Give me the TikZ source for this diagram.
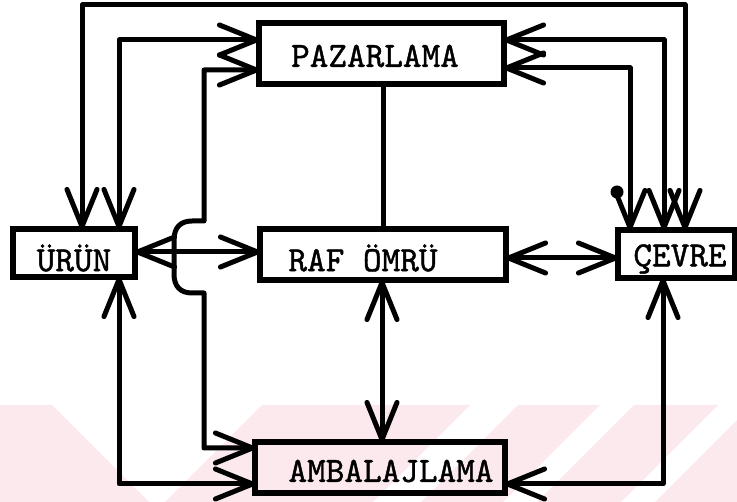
\documentclass[tikz,border=0pt]{standalone}
\usepackage{fontspec}
\setmonofont{lmmono10-regular.otf}[FakeBold=1.2]
\usetikzlibrary{arrows.meta}
\definecolor{wm}{RGB}{252,233,237}
\begin{document}
\begin{tikzpicture}[x=1pt,y=-1pt,
  box/.style={draw,line width=5.2pt,inner sep=0pt,outer sep=0pt},
  lbl/.style={inner sep=0pt,font=\ttfamily\fontsize{35.5}{35.5}\selectfont},
  conn/.style={line width=5pt,line cap=round,line join=round},
  link/.style={conn,{Straight Barb[length=37pt,width=30pt,round]}-{Straight Barb[length=37pt,width=30pt,round]}}]
\useasboundingbox (0,0) rectangle (737,502);
% faint watermark stripes
\fill[wm] (0,405) -- (52,405) -- (149,502) -- (0,502) -- cycle;
\fill[wm] (262,405) -- (470,405) -- (373,502) -- (165,502) -- cycle;
\fill[wm] (518,405) -- (600,405) -- (503,502) -- (421,502) -- cycle;
\fill[wm] (634,405) -- (718,405) -- (621,502) -- (537,502) -- cycle;
\fill[wm] (752,405) -- (850,405) -- (753,502) -- (655,502) -- cycle;
% boxes
\node[box,minimum width=245pt,minimum height=61pt] (paz) at (381.5,53.5) {};
\node[box,minimum width=122pt,minimum height=48pt] (urun) at (74,253) {};
\node[box,minimum width=246pt,minimum height=51pt] (raf) at (383,254.5) {};
\node[box,minimum width=117pt,minimum height=48pt] (cevre) at (676.5,254) {};
\node[box,minimum width=250pt,minimum height=51pt] (amb) at (380,467.5) {};
% labels
\node[lbl] (pazt) at (375,56) {PAZARLAMA};
\node[lbl] (urunt) at (74,258) {ÜRÜN};
\node[lbl] (raft) at (363,258) {RAF ÖMRÜ};
\node[lbl] (cevret) at (680,259) {ÇEVRE};
\node[lbl] (ambt) at (391,471) {AMBALAJLAMA};
% route coordinates
\coordinate (o1) at (82,5);
\coordinate (o2) at (685,5);
\coordinate (p1) at (119,40);
\coordinate (q1) at (204,70);
\coordinate (q2) at (204,448);
\coordinate (r1) at (119,484);
\coordinate (s1) at (383,150);
\coordinate (s2) at (382,360);
\coordinate (u1) at (200,252);
\coordinate (v1) at (560,258);
\coordinate (w1) at (663,484);
\coordinate (x1) at (664,40);
\coordinate (y1) at (630,68);
% connectors
\draw[link] (urun.north -| o1) -- (o1) -- (o2) -- (cevre.north -| o2);
\draw[link] (urun.north -| p1) -- (p1) -- (paz.west |- p1);
\draw[link] (paz.west |- q1) -- (q1) -- (204,221) -- (192,221)
  .. controls (180,221) and (174,228) .. (174,240) -- (174,274)
  .. controls (174,286) and (180,293) .. (192,293) -- (204,293) -- (q2) -- (amb.west |- q2);
\draw[link] (urun.south -| r1) -- (r1) -- (amb.west |- r1);
\draw[conn] (paz.south -| s1) -- (raf.north -| s1);
\draw[link] (urun.east |- u1) -- (raf.west |- u1);
\draw[link] (raf.east |- v1) -- (cevre.west |- v1);
\draw[link] (raf.south -| s2) -- (amb.north -| s2);
\draw[link] (cevre.south -| w1) -- (w1) -- (amb.east |- w1);
\draw[link] (paz.east |- x1) -- (x1) -- (cevre.north -| x1);
\draw[link] (paz.east |- y1) -- (y1) -- (cevre.north -| y1);
% ink blot
\fill (617,192) circle [radius=6.5pt];
\end{tikzpicture}
\end{document}
